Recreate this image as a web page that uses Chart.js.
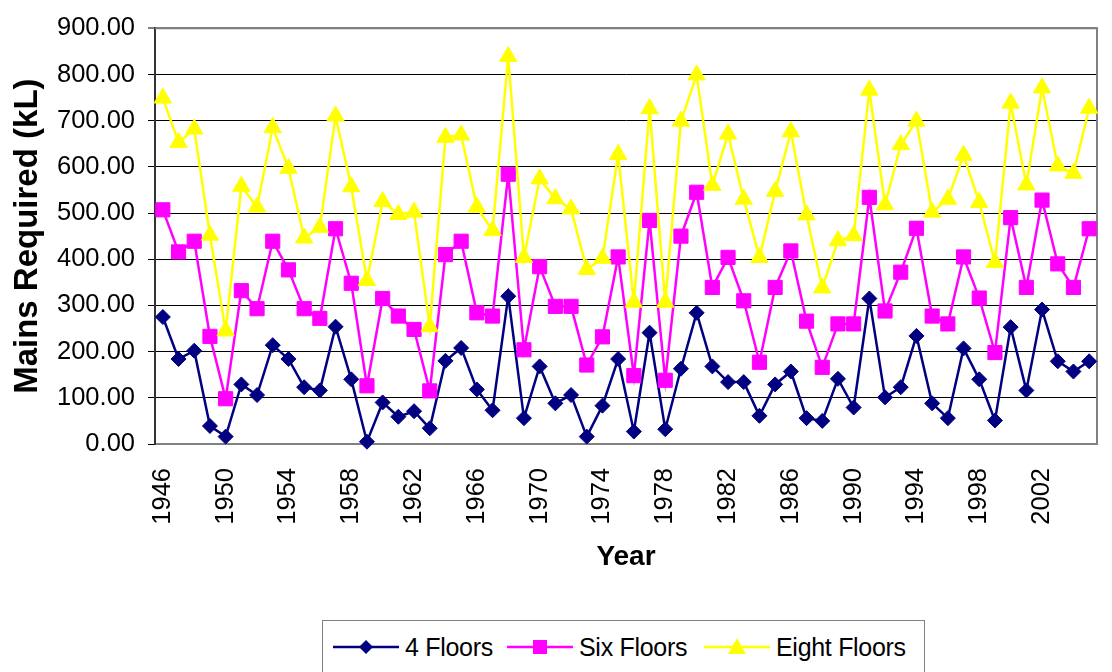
<!DOCTYPE html>
<html>
<head>
<meta charset="utf-8">
<script src="https://cdn.jsdelivr.net/npm/chart.js@4.4.1/dist/chart.umd.min.js"></script>
<style>
  html, body { margin: 0; padding: 0; background: #fff; overflow: hidden; }
  #wrap { position: relative; width: 1112px; height: 672px; font-family: "Liberation Sans", Arial, sans-serif; }
  #chart { position: absolute; left: 0; top: 0; }
  #legend {
    position: absolute; left: 322px; top: 620px; width: 603px; height: 70px;
    border: 1.5px solid #808080; box-sizing: border-box; background: #fff;
  }
  .item { position: absolute; top: 12px; display: flex; align-items: center; height: 28px; }
  .item span { font-size: 25px; color: #000; margin-left: 6px; letter-spacing: -0.3px; }
</style>
</head>
<body>
<div id="wrap">
  <canvas id="chart" width="1112" height="600"></canvas>
  <div id="legend"></div>
</div>
<script>
const years = [
  '1946','1947','1948','1949','1950','1951','1952','1953','1954','1955',
  '1956','1957','1958','1959','1960','1961','1962','1963','1964','1965',
  '1966','1967','1968','1969','1970','1971','1972','1973','1974','1975',
  '1976','1977','1978','1979','1980','1981','1982','1983','1984','1985',
  '1986','1987','1988','1989','1990','1991','1992','1993','1994','1995',
  '1996','1997','1998','1999','2000','2001','2002','2003','2004','2005'
];

const fourFloors = [
  275, 184, 202, 39, 16, 129, 106, 214, 184, 123,
  116, 254, 140, 5, 90, 59, 71, 34, 180, 208,
  118, 73, 320, 56, 168, 88, 106, 16, 83, 184,
  27, 241, 32, 163, 284, 168, 134, 134, 61, 129,
  157, 56, 50, 141, 79, 315, 101, 123, 234, 88,
  56, 207, 140, 51, 253, 116, 291, 179, 157, 179
];

const sixFloors = [
  507, 416, 439, 233, 98, 332, 293, 439, 377, 293,
  272, 466, 348, 126, 315, 277, 248, 115, 410, 439,
  284, 277, 584, 204, 384, 298, 298, 171, 232, 405,
  148, 484, 138, 450, 545, 339, 404, 310, 177, 339,
  418, 266, 166, 260, 260, 534, 288, 372, 467, 277,
  260, 405, 316, 198, 490, 339, 528, 390, 339, 466
];

const eightFloors = [
  749, 653, 682, 452, 245, 558, 513, 685, 597, 446,
  469, 710, 557, 354, 525, 497, 502, 254, 664, 669,
  513, 462, 839, 404, 574, 531, 509, 378, 402, 627,
  307, 726, 307, 699, 799, 560, 671, 530, 404, 547,
  676, 496, 338, 440, 451, 766, 518, 648, 699, 502,
  530, 625, 523, 393, 738, 561, 771, 602, 586, 727
];

const yTicks = [0, 100, 200, 300, 400, 500, 600, 700, 800, 900];
const labelEvery = 4;

const FONT = '"Liberation Sans", Arial, sans-serif';

const series = [
  { label: '4 Floors', data: fourFloors, color: '#000080', style: 'rectRot', radius: 7.5, order: 3 },
  { label: 'Six Floors', data: sixFloors, color: '#FF00FF', style: 'rect', radius: 10, order: 2 },
  { label: 'Eight Floors', data: eightFloors, color: '#FFFF00', style: 'triangle', radius: 10, order: 1 }
];

// grey frame on the top and right side of the plot area
const frameBorder = {
  id: 'frameBorder',
  beforeDatasetsDraw(chart) {
    const { ctx, chartArea: a } = chart;
    ctx.save();
    ctx.strokeStyle = '#808080';
    ctx.lineWidth = 2;
    ctx.beginPath();
    ctx.moveTo(a.left, a.top);
    ctx.lineTo(a.right, a.top);
    ctx.lineTo(a.right, a.bottom);
    ctx.stroke();
    ctx.restore();
  }
};

new Chart(document.getElementById('chart'), {
  type: 'line',
  data: {
    labels: years,
    datasets: series.map(s => ({
      label: s.label,
      data: s.data,
      borderColor: s.color,
      backgroundColor: s.color,
      borderWidth: 2.5,
      tension: 0,
      pointStyle: s.style,
      pointRadius: s.radius,
      pointBackgroundColor: s.color,
      pointBorderColor: s.color,
      pointBorderWidth: 1,
      order: s.order,
      clip: false
    }))
  },
  options: {
    responsive: false,
    animation: false,
    layout: { padding: { top: 24, right: 15, left: 0, bottom: 0 } },
    plugins: {
      legend: { display: false },
      tooltip: { enabled: false }
    },
    scales: {
      x: {
        offset: true,
        grid: { display: false, drawTicks: false },
        border: { display: true, color: '#808080', width: 2 },
        ticks: {
          autoSkip: false,
          minRotation: 90,
          maxRotation: 90,
          padding: 24,
          color: '#000',
          font: { family: FONT, size: 25.5 },
          callback: (v, i) => (i % labelEvery === 0 ? years[i] : '')
        },
        title: {
          display: true,
          text: 'Year',
          color: '#000',
          font: { family: FONT, size: 28, weight: 'bold' },
          padding: { top: 0, bottom: 26 }
        },
        afterFit: scale => {
          scale.height = 156;
          // rotated labels make the scale reserve side room we do not want
          scale.paddingLeft = 0;
          scale.paddingRight = 0;
        }
      },
      y: {
        min: 0,
        max: 900,
        afterBuildTicks: scale => { scale.ticks = yTicks.map(v => ({ value: v })); },
        grid: {
          color: c => (c.tick && c.tick.value === 900 ? '#808080' : '#000'),
          lineWidth: c => (c.tick && c.tick.value === 900 ? 2 : 1),
          tickLength: 7
        },
        border: { display: true, color: '#333', width: 2 },
        ticks: {
          padding: 13,
          color: '#000',
          font: { family: FONT, size: 25.5 },
          callback: v => v.toFixed(2)
        },
        title: {
          display: true,
          text: 'Mains Required (kL)',
          color: '#000',
          font: { family: FONT, size: 33, weight: 'bold' },
          padding: { top: 8, bottom: 0 }
        },
        afterFit: scale => { scale.width = 155; }
      }
    }
  },
  plugins: [frameBorder]
});

// legend: line sample with marker, then the series name
const markerSvg = (s) => {
  let mark = '';
  if (s.style === 'rectRot') mark = '<polygon points="33,3 40,10 33,17 26,10" fill="' + s.color + '"/>';
  if (s.style === 'rect') mark = '<rect x="26" y="3" width="14" height="14" fill="' + s.color + '"/>';
  if (s.style === 'triangle') mark = '<polygon points="33,1 42,17 24,17" fill="' + s.color + '"/>';
  return '<svg width="66" height="20" viewBox="0 0 66 20">' +
    '<line x1="0" y1="10" x2="66" y2="10" stroke="' + s.color + '" stroke-width="2.5"/>' + mark + '</svg>';
};

const legendLefts = [10, 184, 381];
const legend = document.getElementById('legend');
legend.innerHTML = series.map((s, i) =>
  '<div class="item" style="left:' + legendLefts[i] + 'px">' + markerSvg(s) + '<span>' + s.label + '</span></div>'
).join('');
</script>
</body>
</html>
